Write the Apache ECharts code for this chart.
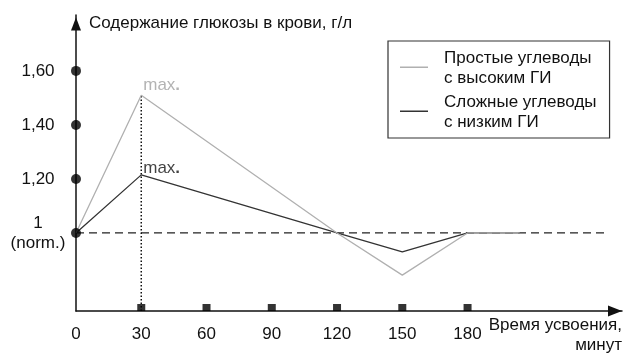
<!DOCTYPE html>
<html>
<head>
<meta charset="utf-8">
<script src="https://cdn.jsdelivr.net/npm/echarts@6/dist/echarts.min.js"></script>
<style>
html,body{margin:0;padding:0;background:#fff;}
#chart{width:640px;height:364px;}
</style>
</head>
<body>
<div id="chart"></div>
<script>
// ---- data ----
var minutes = [0, 30, 120, 150, 180, 204];
var simpleCarbs = [1, 1.51, 1, 0.844, 1, 1];      // Простые углеводы с высоким ГИ
var complexCarbs = [1, 1.215, 1, 0.93, 1, 1];     // Сложные углеводы с низким ГИ
var xTicks = [0, 30, 60, 90, 120, 150, 180];
var yTicks = [1, 1.2, 1.4, 1.6];
var normLevel = 1;
var normLineEnd = 244;
var peakMinute = 30;
var yMin = 0.711, yMax = 1.807, xMax = 251;
var seriesNames = ['Простые углеводы\nс высоким ГИ', 'Сложные углеводы\nс низким ГИ'];

function pairs(xs, ys) { return xs.map(function (x, i) { return [x, ys[i]]; }); }

var FONT = 'Liberation Sans, Arial, sans-serif';
var FS = 17;
var chart = echarts.init(document.getElementById('chart'), null, {renderer: 'canvas'});

var option = {
  animation: false,
  backgroundColor: '#fff',
  textStyle: {fontFamily: FONT},
  grid: {left: 76, right: 18, top: 15, bottom: 53, containLabel: false},
  legend: {
    data: seriesNames,
    orient: 'vertical',
    left: 388,
    top: 41,
    padding: [7, 13, 5, 12],
    borderColor: '#333',
    borderWidth: 1.2,
    itemWidth: 28,
    itemHeight: 40,
    itemGap: 3,
    icon: 'path://M0,0h0.01v0.01h-0.01z M0,18h28v1.4h-28z M0,39.99h0.01v0.01h-0.01z',
    itemStyle: {borderWidth: 0},
    selectedMode: false,
    textStyle: {fontSize: FS, color: '#111', lineHeight: 20.5, padding: [0, 0, 0, 11], fontFamily: FONT},
    formatter: function (n) { return n; }
  },
  xAxis: {
    type: 'value', min: 0, max: xMax,
    name: 'Время усвоения,\nминут',
    nameLocation: 'end', nameGap: 0,
    nameTextStyle: {fontSize: FS, color: '#111', align: 'right', verticalAlign: 'top', lineHeight: 20, padding: [4, 0, 0, 0]},
    axisLine: {show: true, onZero: false, symbol: ['none', 'triangle'], symbolSize: [11, 14], symbolOffset: [0, -7],
      lineStyle: {color: '#111', width: 1.5}},
    axisTick: {show: false},
    splitLine: {show: false},
    axisLabel: {customValues: xTicks, fontSize: FS, color: '#111', margin: 15}
  },
  yAxis: {
    type: 'value', min: yMin, max: yMax,
    name: 'Содержание глюкозы в крови, г/л',
    nameLocation: 'end', nameGap: -8,
    nameTextStyle: {fontSize: FS, color: '#111', align: 'left', verticalAlign: 'middle', padding: [0, 0, 0, 13]},
    axisLine: {show: true, onZero: false, symbol: ['none', 'triangle'], symbolSize: [10, 13], symbolOffset: [0, -9],
      lineStyle: {color: '#111', width: 1.5}},
    axisTick: {show: false},
    splitLine: {show: false},
    axisLabel: {
      customValues: yTicks, fontSize: FS, color: '#111', margin: 38, align: 'center', lineHeight: 20,
      formatter: function (v) {
        if (Math.abs(v - 1) < 1e-6) return '1\n(norm.)';
        return v.toFixed(2).replace('.', ',');
      }
    }
  },
  series: [
    {
      name: 'norm', type: 'line', data: [[0, normLevel], [normLineEnd, normLevel]],
      symbol: 'none', silent: true, z: 1,
      lineStyle: {color: '#222', width: 1.3, type: [8, 5]}
    },
    {
      name: 'peak', type: 'line', data: [[peakMinute, yMin], [peakMinute, simpleCarbs[1]]],
      symbol: 'none', silent: true, z: 1,
      lineStyle: {color: '#111', width: 1.5, type: [1.5, 2]}
    },
    {
      name: seriesNames[1], type: 'line', data: pairs(minutes, complexCarbs),
      symbol: 'none', z: 3,
      itemStyle: {color: '#333'},
      lineStyle: {color: '#333', width: 1.3}
    },
    {
      name: seriesNames[0], type: 'line', data: pairs(minutes, simpleCarbs),
      symbol: 'none', z: 4,
      itemStyle: {color: '#b0b0b0'},
      lineStyle: {color: '#b0b0b0', width: 1.3}
    },
    {
      name: 'maxLabels', type: 'scatter', symbolSize: 0, clip: false, z: 5,
      data: [
        {value: [peakMinute, simpleCarbs[1]], label: {offset: [0, -10],
          rich: {m: {fontSize: 17, color: '#a0a0a0'}, d: {fontSize: 17, fontWeight: 'bold', color: '#a0a0a0'}}}},
        {value: [peakMinute, complexCarbs[1]], label: {offset: [0, -7],
          rich: {m: {fontSize: 17, color: '#111'}, d: {fontSize: 17, fontWeight: 'bold', color: '#111'}}}}
      ],
      label: {show: true, position: 'right', distance: 2, formatter: '{m|max}{d|.}'}
    },
    {
      name: 'yDots', type: 'scatter', symbol: 'circle', symbolSize: 10, clip: false, z: 6,
      itemStyle: {color: '#000'},
      data: yTicks.map(function (v) { return [0, v]; })
    },
    {
      name: 'xSquares', type: 'scatter', symbol: 'rect', symbolSize: [8, 7], symbolOffset: [0, -3.5], clip: false, z: 6,
      itemStyle: {color: '#000'},
      data: xTicks.slice(1).map(function (v) { return [v, yMin]; })
    }
  ]
};
chart.setOption(option);
</script>
</body>
</html>
